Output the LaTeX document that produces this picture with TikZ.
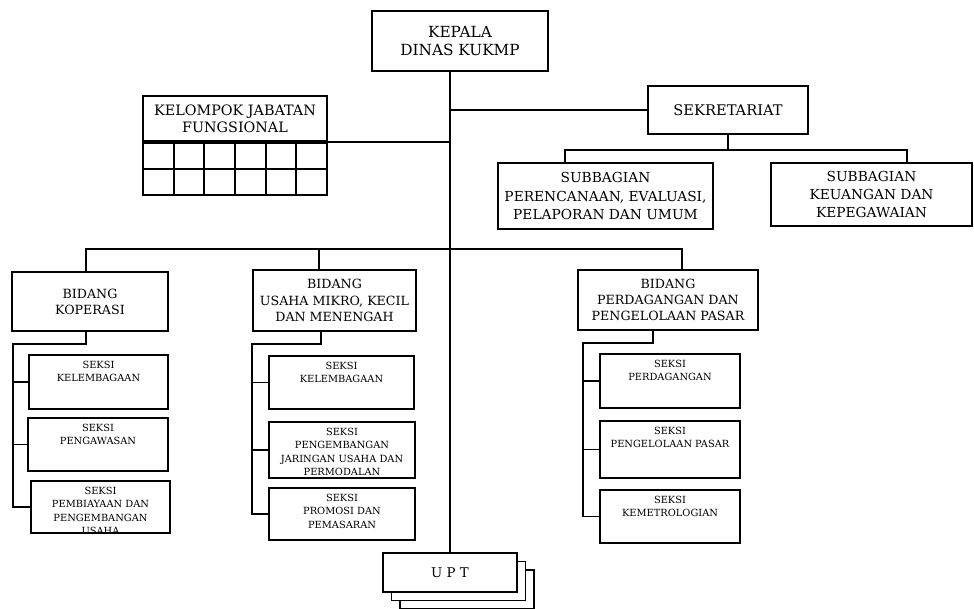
\documentclass[tikz,border=0pt]{standalone}
\usepackage{fontspec}
\setmainfont{DejaVu Serif}
\usetikzlibrary{calc}

\begin{document}
\begin{tikzpicture}[x=0.025cm, y=-0.025cm,
  box/.style={rectangle, draw, line width=1.3pt, align=center, inner sep=2pt},
  bidang/.style={box, font=\fontsize{9}{11.5}\selectfont},
  seksi/.style={rectangle, draw, line width=1.3pt},
  seksitext/.style={font=\fontsize{7}{9.6}\selectfont, align=center, anchor=north, inner sep=0pt, yshift=-4.5pt},
  cell/.style={rectangle, draw, line width=1.3pt, minimum width=0.7667cm, minimum height=0.65cm, inner sep=0pt},
  conn/.style={line width=1.3pt}
]
  \useasboundingbox (0,0) rectangle (974,608);

  % Pimpinan dan sekretariat (top)
  \node[box, font=\fontsize{10.9}{13}\selectfont, minimum width=4.4cm, minimum height=1.5cm] (kepala) at (460,41) {KEPALA\\DINAS KUKMP};
  \node[box, font=\fontsize{10.4}{12}\selectfont, minimum width=4cm, minimum height=1.2cm] (sekret) at (728,110) {SEKRETARIAT};
  \node[box, font=\fontsize{9.8}{13}\selectfont, minimum width=5.375cm, minimum height=1.65cm] (subper) at (605.5,196) {SUBBAGIAN\\PERENCANAAN, EVALUASI,\\PELAPORAN DAN UMUM};
  \node[box, font=\fontsize{9.8}{13}\selectfont, minimum width=5.025cm, minimum height=1.575cm] (subkeu) at (871.5,194.5) {SUBBAGIAN\\KEUANGAN DAN\\KEPEGAWAIAN};

  % Kelompok jabatan fungsional with its grid
  \node[box, font=\fontsize{10.2}{12.3}\selectfont, minimum width=4.6cm, minimum height=1.125cm] (kjf) at (235,118.5) {KELOMPOK JABATAN\\FUNGSIONAL};
  \foreach \r in {0,1}
    \foreach \c in {0,...,5}
      \node[cell, anchor=north west] (cell\r\c) at ($(kjf.south west)+(\c*30.667,\r*26)$) {};

  % Bidang layer
  \node[bidang, minimum width=3.9cm, minimum height=1.475cm] (bkop) at (90,301.5) {BIDANG\\KOPERASI};
  \node[bidang, minimum width=4.075cm, minimum height=1.525cm] (bumkm) at (334.5,300.5) {BIDANG\\USAHA MIKRO, KECIL\\DAN MENENGAH};
  \node[bidang, minimum width=4.5cm, minimum height=1.5cm] (bpasar) at (668,300) {BIDANG\\PERDAGANGAN DAN\\PENGELOLAAN PASAR};

  % Seksi under Bidang Koperasi
  \node[seksi, minimum width=3.475cm, minimum height=1.35cm, label={[seksitext]north:{SEKSI\\KELEMBAGAAN}}] (sK1) at (98.5,382) {};
  \node[seksi, minimum width=3.5cm, minimum height=1.325cm, label={[seksitext]north:{SEKSI\\PENGAWASAN}}] (sK2) at (98,444.5) {};
  \node[seksi, minimum width=3.475cm, minimum height=1.3cm, label={[seksitext]north:{SEKSI\\PEMBIAYAAN DAN\\PENGEMBANGAN\\USAHA}}] (sK3) at (100.5,507) {};

  % Seksi under Bidang UMKM
  \node[seksi, minimum width=3.625cm, minimum height=1.325cm, label={[seksitext]north:{SEKSI\\KELEMBAGAAN}}] (sU1) at (341.5,382.5) {};
  \node[seksi, minimum width=3.65cm, minimum height=1.4cm, label={[seksitext]north:{SEKSI\\PENGEMBANGAN\\JARINGAN USAHA DAN\\PERMODALAN}}] (sU2) at (342,450) {};
  \node[seksi, minimum width=3.65cm, minimum height=1.3cm, label={[seksitext]north:{SEKSI\\PROMOSI DAN\\PEMASARAN}}] (sU3) at (342,514) {};

  % Seksi under Bidang Perdagangan
  \node[seksi, minimum width=3.5cm, minimum height=1.35cm, label={[seksitext]north:{SEKSI\\PERDAGANGAN}}] (sP1) at (670,381) {};
  \node[seksi, minimum width=3.5cm, minimum height=1.425cm, label={[seksitext]north:{SEKSI\\PENGELOLAAN PASAR}}] (sP2) at (670,449.5) {};
  \node[seksi, minimum width=3.5cm, minimum height=1.325cm, label={[seksitext]north:{SEKSI\\KEMETROLOGIAN}}] (sP3) at (670,516.5) {};

  % UPT stack (bottom)
  \node[box, fill=white, minimum width=3.35cm, minimum height=0.975cm] (upt3) at (467,589.5) {};
  \node[box, fill=white, minimum width=3.35cm, minimum height=0.975cm] (upt2) at (458.5,581) {};
  \node[box, fill=white, font=\fontsize{9.5}{10}\selectfont, minimum width=3.35cm, minimum height=0.975cm] (upt) at (450,572.5) {U P T};

  % Main line and side branches
  \draw[conn] (upt.north |- kepala.south) -- (upt.north);
  \draw[conn] (kjf.south east) -- (kjf.south east -| upt.north);
  \draw[conn] (sekret.west) -- (sekret.west -| upt.north);
  \draw[conn] (sekret.south) -- ++(0,15) -| ([xshift=1.7cm]subper.north west);
  \draw[conn] ($(sekret.south)+(0,15)$) -| ([xshift=3.425cm]subkeu.north west);

  % Bus to the bidang
  \draw[conn] ([xshift=-0.1cm]bkop.north) -- ++(0,-22) -| ([xshift=0.35cm]bpasar.north);
  \draw[conn] ([xshift=-0.39cm]bumkm.north) -- ++(0,-20);

  % Bidang to seksi
  \draw[conn] ([xshift=-0.1cm]bkop.south) -- ++(0,12) -| ([xshift=-0.425cm]sK3.west) -- (sK3.west);
  \draw[conn] (sK1.west) -- ++(-15,0);
  \draw[conn] (sK2.west) -- ++(-14,0);
  \draw[conn] ([xshift=-0.34cm]bumkm.south) -- ++(0,12) -| ([xshift=-0.4cm]sU3.west) -- (sU3.west);
  \draw[conn] (sU1.west) -- ++(-16,0);
  \draw[conn] (sU2.west) -- ++(-16,0);
  \draw[conn] ([xshift=-0.375cm]bpasar.south) -- ++(0,12) -| ([xshift=-0.4cm]sP3.west) -- (sP3.west);
  \draw[conn] (sP1.west) -- ++(-16,0);
  \draw[conn] (sP2.west) -- ++(-16,0);
\end{tikzpicture}
\end{document}
